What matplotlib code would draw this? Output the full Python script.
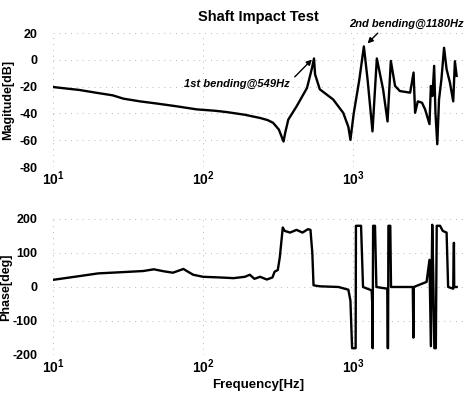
import numpy as np
import matplotlib
matplotlib.use('Agg')
import matplotlib.pyplot as plt

plt.rcParams['font.family'] = ['Liberation Sans', 'DejaVu Sans']
plt.rcParams['mathtext.fontset'] = 'custom'
plt.rcParams['mathtext.bf'] = 'Liberation Sans:bold'
plt.rcParams['mathtext.rm'] = 'Liberation Sans'

# magnitude
mag_freq = [10, 15, 19.5, 25, 29.5, 38, 49, 65, 91, 120, 144, 190, 240, 270, 293, 320,
            344, 352, 370, 421, 493, 530, 549, 558, 600, 737, 860, 930, 960, 1010,
            1100, 1180, 1250, 1347, 1440, 1585, 1697, 1785, 1905, 2050, 2400, 2530,
            2590, 2700, 2880, 3020, 3230, 3300, 3380, 3470, 3540, 3640, 3740, 3880,
            4040, 4200, 4420, 4650, 4770, 4900]
mag_db = [-20.3, -22.5, -24.6, -26.5, -29, -31, -32.6, -34.5, -37, -38, -39, -41, -43.4,
          -45, -47, -52, -61, -55, -44.6, -34.6, -21, -7, 1, -10.8, -22, -29.6, -39.6,
          -50, -59.7, -40, -15, 10, -15, -53.4, 1, -22, -46, -0.8, -19.5, -23.3, -24.5,
          -9.5, -39.5, -31, -32, -37, -48, -19.5, -27, -4.5, -39.5, -63, -29.5, -14.5,
          9, -7, -17, -31, -1, -12]

# phase
ph_freq = [10, 15, 20, 30, 40, 47, 55, 63, 74, 80, 86, 100, 130, 160, 190, 205, 220,
           240, 266, 290, 300, 315, 325, 340, 350, 380, 420, 460, 500, 520, 535,
           545, 600, 800, 930, 960, 985, 1040, 1045, 1130, 1165, 1330, 1345, 1350,
           1360, 1400, 1430, 1690, 1700, 1710, 1720, 1770, 1790, 2500, 2523, 2540,
           3090, 3230, 3300, 3370, 3420, 3480, 3560, 3610, 3800, 3960, 4200, 4300,
           4650, 4700, 4720, 4900]
ph_deg = [21, 32, 40, 44, 47, 52, 46, 42, 53, 44, 36, 30, 28, 26, 30, 36, 24, 30, 22,
          28, 45, 50, 88, 175, 165, 160, 168, 160, 170, 168, 100, 5, 2, 0, -8,
          -40, -180, -180, 180, 180, 0, -10, -60, -180, 180, 180, 0, -5, -180, -180,
          180, 180, 0, 0, -149, 0, 15, 80, -174, 183, 40, -180, -180, 180, 180, 165,
          160, 0, -5, 130, 0, 0]

x_ticks = [10, 100, 1000]
x_ticklabels = [r'$\mathbf{10^{1}}$', r'$\mathbf{10^{2}}$', r'$\mathbf{10^{3}}$']
mag_ticks = [20, 0, -20, -40, -60, -80]
ph_ticks = [200, 100, 0, -100, -200]

fig = plt.figure(figsize=(4.66, 3.97), dpi=100)
ax1 = fig.add_axes([0.1137, 0.5793, 0.8798, 0.3375])
ax2 = fig.add_axes([0.1137, 0.1058, 0.8798, 0.3426])

ax1.semilogx(mag_freq, mag_db, color='black', linewidth=1.7)
ax2.semilogx(ph_freq, ph_deg, color='black', linewidth=1.7)

for ax, yt in [(ax1, mag_ticks), (ax2, ph_ticks)]:
    ax.set_xlim(10, 5400)
    ax.set_ylim(min(yt), max(yt))
    ax.set_xticks(x_ticks)
    ax.set_xticklabels(x_ticklabels)
    ax.set_yticks(yt)
    ax.set_yticklabels([str(v) for v in yt], fontweight='bold')
    ax.tick_params(which='both', length=0, labelsize=9)
    ax.tick_params(axis='y', pad=11)
    ax.tick_params(axis='x', pad=2, labelsize=10)
    ax.xaxis.set_minor_formatter(plt.NullFormatter())
    for s in ax.spines.values():
        s.set_visible(False)
    ax.grid(True, which='major', color='#b8b8b8', linestyle=(0, (1, 5)), linewidth=0.7)

ax1.set_title('Shaft Impact Test', fontsize=10.5, fontweight='bold', pad=9)
ax1.set_ylabel('Magitude[dB]', fontsize=9, fontweight='bold')
ax1.yaxis.set_label_coords(-0.095, 0.5)
ax2.set_ylabel('Phase[deg]', fontsize=9, fontweight='bold')
ax2.yaxis.set_label_coords(-0.1, 0.5)
ax2.set_xlabel('Frequency[Hz]', fontsize=9.5, fontweight='bold', labelpad=2)

ax1.annotate('1st bending@549Hz', xy=(540, 1), xytext=(380, -17.8),
             fontsize=8, fontweight='bold', fontstyle='italic', ha='right', va='center',
             arrowprops=dict(arrowstyle='-|>', color='black', lw=1, mutation_scale=8,
                             shrinkA=2, shrinkB=1, relpos=(1.0, 0.7)))
ax1.annotate('2nd bending@1180Hz', xy=(1230, 11.5), xytext=(2275, 26.5),
             fontsize=8, fontweight='bold', fontstyle='italic', ha='center', va='center',
             annotation_clip=False,
             arrowprops=dict(arrowstyle='-|>', color='black', lw=1, mutation_scale=8,
                             shrinkA=1, shrinkB=1, relpos=(0.28, 0.0)))

fig.savefig('out.png', dpi=100)
